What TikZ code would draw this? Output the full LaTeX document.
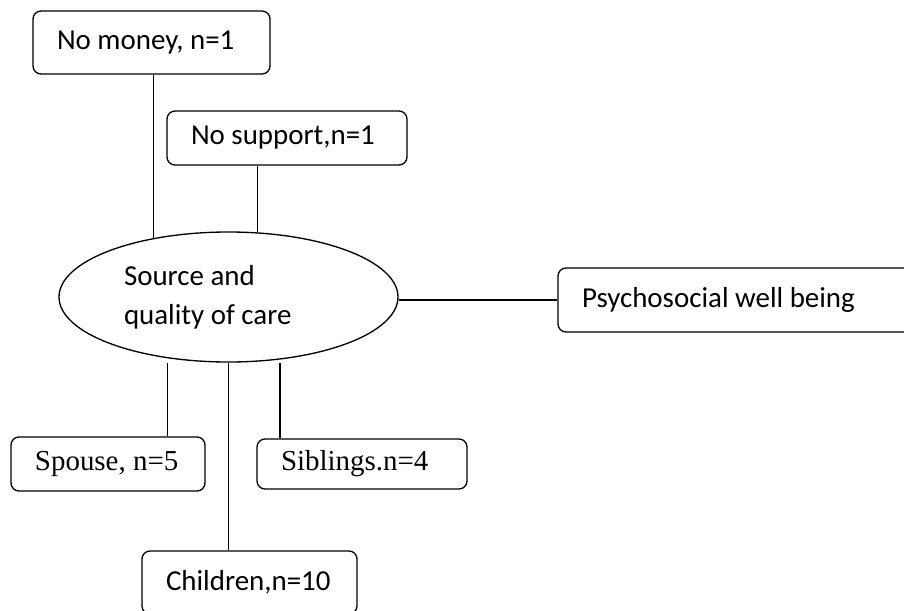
\documentclass[tikz,border=0pt]{standalone}
\usepackage{fontspec}
\setmainfont{Carlito}
\newfontfamily\timesfont{Liberation Serif}
\usetikzlibrary{positioning,shapes.geometric}

\begin{document}
\begin{tikzpicture}[
  x=0.75pt, y=-0.75pt,
  every node/.style={font=\fontsize{21.7pt}{29.25pt}\selectfont},
  box/.style={draw, line width=1pt, rounded corners=6pt, align=flush left, inner xsep=18pt, inner ysep=0pt},
  hub/.style={draw, ellipse, line width=1pt, inner sep=0pt, minimum width=254.25pt, minimum height=97.5pt, align=flush left, text width=156.75pt},
  link/.style={line width=0.8pt}
]
\useasboundingbox (0,0) rectangle (904,611);
\clip (0,0) rectangle (904,611);
\node[hub] (care) at (228.5,297) {Source and\\quality of care};
\node[box, text width=141.75pt, minimum height=47.25pt] (money) at (151.5,42.5) {No money, n=1};
\node[box, text width=144pt, minimum height=40.5pt] (support) at (287,138) {No support,n=1};
\node[box, text width=267pt, minimum height=48pt] (psych) at (760,300) {Psychosocial well being};
\node[box, text width=109.5pt, minimum height=40.5pt] (spouse) at (108,464) {\timesfont Spouse, n=5};
\node[box, text width=121.5pt, minimum height=37.5pt] (sibl) at (362,464) {\timesfont Siblings.n=4};
\node[box, text width=125.25pt, minimum height=47.25pt] (kids) at (249.5,582.5) {Children,n=10};

\draw[link] (care.142) -- (care.142 |- money.south);
\draw[link] (care.66) -- (care.66 |- support.south);
\draw[link] (care.east |- psych.west) -- (psych.west);
\draw[link] ([xshift=-46.1pt]care.south) -- ([xshift=-46.1pt]care.south |- spouse.north);
\draw[link] (care.south) -- (care.south |- kids.north);
\draw[link] ([xshift=38.6pt]care.south) -- ([xshift=38.6pt]care.south |- sibl.north);
\end{tikzpicture}
\end{document}
